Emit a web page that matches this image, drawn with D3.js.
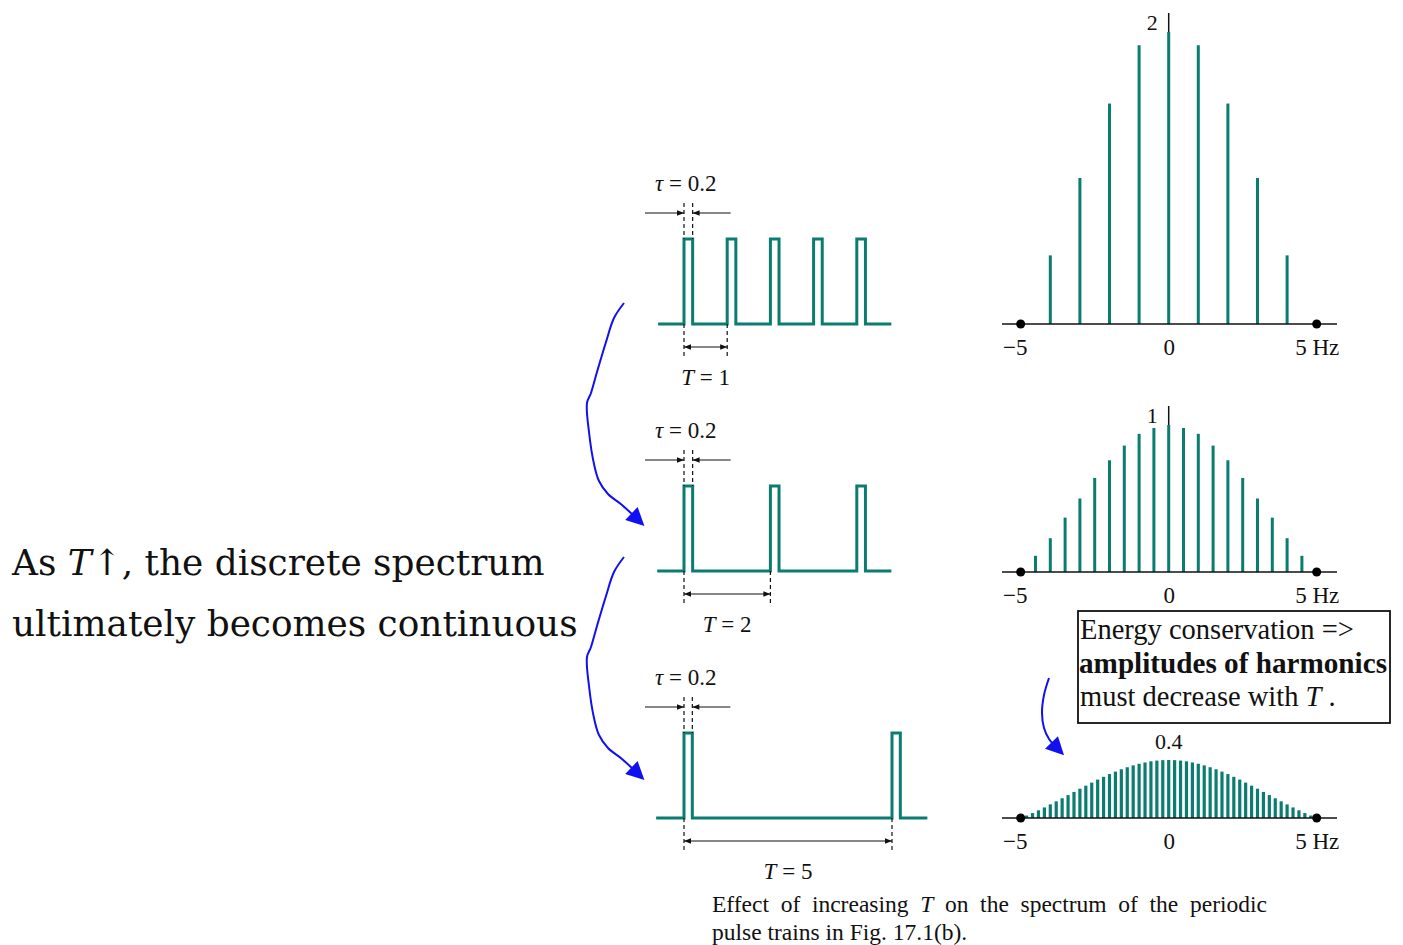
<!doctype html>
<html lang="en">
<head>
  <title>Pulse train spectra</title>
  <script src="https://d3js.org/d3.v7.min.js"></script>
  <style>
    body { margin: 0px; background: #ffffff; }
    svg { display: block; }
    text { font-family: "Liberation Serif", "Times New Roman", serif; fill: #111; }
  </style>
</head>
<body>
  <div id="container"></div>
  <script>
    // ---- data ----
    var tau = 0.2;
    var periods = [1, 2, 5];
    var pulseStarts1 = [0, 1, 2, 3, 4];
    var pulseStarts2 = [0, 2, 4];
    var pulseStarts5 = [0, 5];

    var specTickValues = [-5, 0, 5];
    var specTickLabels = ["\u22125", "0", "5 Hz"];
    var peakLabels = ["2", "1", "0.4"];

    var freqT1 = [-4, -3, -2, -1, 0, 1, 2, 3, 4];
    var ampT1 = [0.47, 1.0, 1.51, 1.91, 2.0, 1.91, 1.51, 1.0, 0.47];

    var freqT2 = [-4.5, -4, -3.5, -3, -2.5, -2, -1.5, -1, -0.5, 0, 0.5, 1, 1.5, 2, 2.5, 3, 3.5, 4, 4.5];
    var ampT2 = [0.11, 0.23, 0.37, 0.5, 0.64, 0.76, 0.86, 0.94, 0.98, 1.0, 0.98, 0.94, 0.86, 0.76, 0.64, 0.5, 0.37, 0.23, 0.11];

    var freqT5 = [-4.8, -4.6, -4.4, -4.2, -4.0, -3.8, -3.6, -3.4, -3.2, -3.0, -2.8, -2.6, -2.4, -2.2, -2.0, -1.8, -1.6, -1.4, -1.2, -1.0, -0.8, -0.6, -0.4, -0.2,
                  0, 0.2, 0.4, 0.6, 0.8, 1.0, 1.2, 1.4, 1.6, 1.8, 2.0, 2.2, 2.4, 2.6, 2.8, 3.0, 3.2, 3.4, 3.6, 3.8, 4.0, 4.2, 4.4, 4.6, 4.8];
    var ampT5 = [0.017, 0.034, 0.053, 0.073, 0.094, 0.115, 0.136, 0.158, 0.18, 0.202, 0.223, 0.244, 0.265, 0.284, 0.303, 0.32, 0.336, 0.35, 0.363, 0.374, 0.383, 0.391, 0.396, 0.399,
                 0.4, 0.399, 0.396, 0.391, 0.383, 0.374, 0.363, 0.35, 0.336, 0.32, 0.303, 0.284, 0.265, 0.244, 0.223, 0.202, 0.18, 0.158, 0.136, 0.115, 0.094, 0.073, 0.053, 0.034, 0.017];

    var teal = "#0a7d70";
    var blue = "#1010f0";

    var svg = d3.select("#container").append("svg")
      .attr("width", 1403)
      .attr("height", 945);

    var defs = svg.append("defs");
    defs.append("marker")
      .attr("id", "blk")
      .attr("viewBox", "0 0 10 10")
      .attr("refX", 10).attr("refY", 5)
      .attr("markerUnits", "userSpaceOnUse")
      .attr("markerWidth", 11).attr("markerHeight", 7)
      .attr("orient", "auto-start-reverse")
      .append("path").attr("d", "M0,1 L10,5 L0,9 z").attr("fill", "#111");
    defs.append("marker")
      .attr("id", "blu")
      .attr("viewBox", "0 0 10 10")
      .attr("refX", 2).attr("refY", 5)
      .attr("markerUnits", "userSpaceOnUse")
      .attr("markerWidth", 20).attr("markerHeight", 18)
      .attr("orient", "auto")
      .append("path").attr("d", "M0,0 L10,5 L0,10 z").attr("fill", blue);

    // ---- pulse trains ----
    var rows = [
      { T: periods[0], starts: pulseStarts1, base: 324, x: d3.scaleLinear().domain([0, 1]).range([684, 727.2]), t0: -0.6, t1: 4.8 },
      { T: periods[1], starts: pulseStarts2, base: 571, x: d3.scaleLinear().domain([0, 2]).range([684, 770.4]), t0: -0.62, t1: 4.8 },
      { T: periods[2], starts: pulseStarts5, base: 818, x: d3.scaleLinear().domain([0, 5]).range([684, 892]), t0: -0.67, t1: 5.85 }
    ];

    rows.forEach(function (r) {
      var y = d3.scaleLinear().domain([0, 1]).range([r.base, r.base - 85]);
      var pts = [[r.t0, 0]];
      r.starts.forEach(function (s) {
        pts.push([s, 0], [s, 1], [s + tau, 1], [s + tau, 0]);
      });
      pts.push([r.t1, 0]);

      var g = svg.append("g");
      g.append("path")
        .attr("d", d3.line().x(function (d) { return r.x(d[0]); }).y(function (d) { return y(d[1]); })(pts))
        .attr("fill", "none")
        .attr("stroke", teal)
        .attr("stroke-width", 3)
        .attr("stroke-linejoin", "miter");

      var xa = r.x(0), xb = r.x(tau), xT = r.x(r.T);
      // tau dimension
      [xa, xb].forEach(function (xx) {
        g.append("line").attr("x1", xx).attr("x2", xx)
          .attr("y1", r.base - 121).attr("y2", r.base - 85)
          .attr("stroke", "#111").attr("stroke-width", 1.2).attr("stroke-dasharray", "4,3");
      });
      g.append("line").attr("x1", xa - 39).attr("x2", xa).attr("y1", r.base - 111).attr("y2", r.base - 111)
        .attr("stroke", "#111").attr("stroke-width", 1.2).attr("marker-end", "url(#blk)");
      g.append("line").attr("x1", xb + 38).attr("x2", xb).attr("y1", r.base - 111).attr("y2", r.base - 111)
        .attr("stroke", "#111").attr("stroke-width", 1.2).attr("marker-end", "url(#blk)");
      var tl = g.append("text").attr("x", 655).attr("y", r.base - 133)
        .style("font-size", "23px");
      tl.append("tspan").style("font-style", "italic").text("\u03c4");
      tl.append("tspan").text(" = 0.2");

      // period dimension
      [xa, xT].forEach(function (xx) {
        g.append("line").attr("x1", xx).attr("x2", xx)
          .attr("y1", r.base).attr("y2", r.base + 34)
          .attr("stroke", "#111").attr("stroke-width", 1.2).attr("stroke-dasharray", "4,3");
      });
      g.append("line").attr("x1", xa).attr("x2", xT).attr("y1", r.base + 23).attr("y2", r.base + 23)
        .attr("stroke", "#111").attr("stroke-width", 1.2)
        .attr("marker-start", "url(#blk)").attr("marker-end", "url(#blk)");
      var pl = g.append("text").attr("x", (xa + xT) / 2).attr("y", r.base + 61)
        .attr("text-anchor", "middle").style("font-size", "23px");
      pl.append("tspan").style("font-style", "italic").text("T");
      pl.append("tspan").text(" = " + r.T);
    });

    // ---- spectra ----
    var fx = d3.scaleLinear().domain([-5, 5]).range([1020.7, 1316.7]);
    var specs = [
      { f: freqT1, a: ampT1, y: d3.scaleLinear().domain([0, 2]).range([324, 32]), lab: peakLabels[0] },
      { f: freqT2, a: ampT2, y: d3.scaleLinear().domain([0, 1]).range([572, 425]), lab: peakLabels[1] },
      { f: freqT5, a: ampT5, y: d3.scaleLinear().domain([0, 0.4]).range([818, 760]), lab: peakLabels[2] }
    ];

    specs.forEach(function (s, i) {
      var base = s.y(0);
      var g = svg.append("g");
      g.selectAll("line.bar")
        .data(s.f.map(function (f, j) { return { f: f, a: s.a[j] }; }))
        .enter().append("line")
        .attr("class", "bar")
        .attr("x1", function (d) { return fx(d.f); })
        .attr("x2", function (d) { return fx(d.f); })
        .attr("y1", base)
        .attr("y2", function (d) { return s.y(d.a); })
        .attr("stroke", teal)
        .attr("stroke-width", i === 2 ? 3.2 : 3);

      g.append("line").attr("x1", 1002).attr("x2", 1337).attr("y1", base).attr("y2", base)
        .attr("stroke", "#111").attr("stroke-width", 1.5);
      g.selectAll("circle").data([-5, 5]).enter().append("circle")
        .attr("cx", function (d) { return fx(d); }).attr("cy", base).attr("r", 4.5).attr("fill", "#000");

      var ax = g.append("g").attr("transform", "translate(0," + base + ")")
        .call(d3.axisBottom(fx).tickValues(specTickValues).tickSize(0).tickPadding(15)
          .tickFormat(function (d, k) { return specTickLabels[k]; }));
      ax.select(".domain").remove();
      ax.selectAll("text").style("font-family", "'Liberation Serif', serif").style("font-size", "23px").attr("fill", "#111");
      ax.selectAll(".tick").filter(function (d) { return d === -5; }).select("text").attr("dx", -6);

      if (i < 2) {
        var top = s.y(s.a[(s.a.length - 1) / 2]);
        g.append("line").attr("x1", fx(0)).attr("x2", fx(0)).attr("y1", top - 19).attr("y2", top)
          .attr("stroke", "#111").attr("stroke-width", 1.5);
        g.append("text").attr("x", fx(0) - 11).attr("y", top - 2).attr("text-anchor", "end")
          .style("font-size", "22px").text(s.lab);
      } else {
        g.append("text").attr("x", fx(0)).attr("y", base - 69).attr("text-anchor", "middle")
          .style("font-size", "22px").text(s.lab);
      }
    });

    // ---- text box ----
    svg.append("rect").attr("x", 1078).attr("y", 611).attr("width", 312).attr("height", 112)
      .attr("fill", "none").attr("stroke", "#111").attr("stroke-width", 1.8);
    svg.append("text").attr("x", 1080).attr("y", 639).style("font-size", "28.5px").text("Energy conservation =>");
    svg.append("text").attr("x", 1079).attr("y", 673).style("font-size", "28.5px").style("font-weight", "bold")
      .attr("textLength", 308).attr("lengthAdjust", "spacingAndGlyphs")
      .text("amplitudes of harmonics");
    var t3 = svg.append("text").attr("x", 1080).attr("y", 706).style("font-size", "28.5px");
    t3.append("tspan").text("must decrease with ");
    t3.append("tspan").style("font-style", "italic").text("T");
    t3.append("tspan").text(" .");

    // ---- left statement ----
    var l1 = svg.append("text").attr("x", 12).attr("y", 575).style("font-family", "'DejaVu Serif', serif").style("font-size", "36px");
    l1.append("tspan").text("As ");
    l1.append("tspan").style("font-style", "italic").text("T");
    l1.append("tspan").text("\u2191, the discrete spectrum");
    var l2 = svg.append("text").attr("x", 12).attr("y", 636).style("font-family", "'DejaVu Serif', serif").style("font-size", "36px")
      .text("ultimately becomes continuous");
    var w = l2.node().getComputedTextLength();
    var fs = 36 * 566 / w;
    l1.style("font-size", fs + "px");
    l2.style("font-size", fs + "px");

    // ---- caption (justified by widening word gaps) ----
    var c1 = svg.append("text").attr("x", 712).attr("y", 912).style("font-size", "23.5px");
    c1.append("tspan").text("Effect of increasing ");
    c1.append("tspan").style("font-style", "italic").text("T");
    c1.append("tspan").text(" on the spectrum of the periodic");
    var cw = c1.node().getComputedTextLength();
    c1.style("word-spacing", ((555 - cw) / 9) + "px");
    svg.append("text").attr("x", 712).attr("y", 940).style("font-size", "23.5px")
      .text("pulse trains in Fig. 17.1(b).");

    // ---- blue hand-drawn arrows ----
    var curve = d3.line().curve(d3.curveCatmullRom);
    var brace = [[624, 303], [614, 318], [606, 342], [597, 372], [591, 393], [587, 403], [589, 432], [594, 464], [599, 481], [608, 494], [622, 505], [634, 516]];
    [0, 254].forEach(function (dy) {
      svg.append("path")
        .attr("d", curve(brace.map(function (p) { return [p[0], p[1] + dy]; })))
        .attr("fill", "none").attr("stroke", blue).attr("stroke-width", 2)
        .attr("marker-end", "url(#blu)");
    });
    svg.append("path")
      .attr("d", curve([[1049, 678], [1044, 695], [1042, 713], [1044, 728], [1049, 739], [1054, 745]]))
      .attr("fill", "none").attr("stroke", blue).attr("stroke-width", 2)
      .attr("marker-end", "url(#blu)");
  </script>
</body>
</html>
